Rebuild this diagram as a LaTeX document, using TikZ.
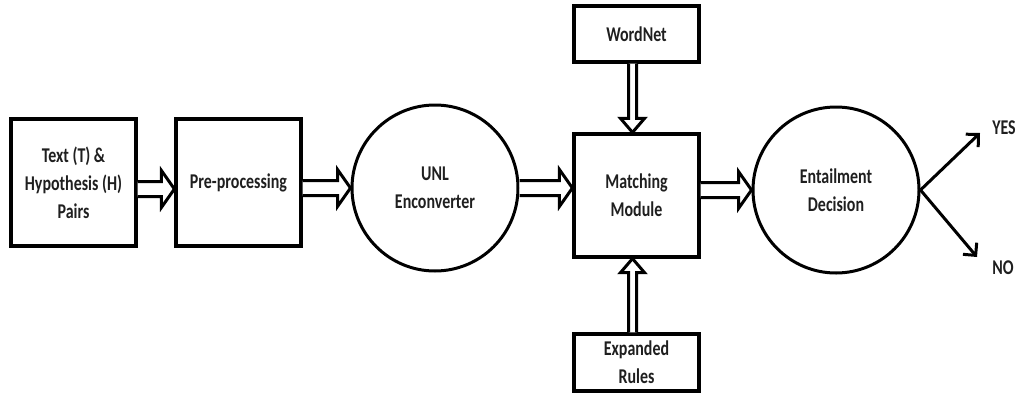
\documentclass[tikz,border=0pt]{standalone}
\usepackage{fontspec}
\setmainfont{Carlito}[FakeStretch=0.76]
\usetikzlibrary{calc,arrows.meta}
% start, end, shaft half-width, head half-width, head length
\newcommand\hollowarrow[5]{%
  \draw[harrow] let \p1=(#1), \p2=(#2), \p3=($(\p2)!#5!(\p1)$) in
   ($(\p1)!#3!90:(\p2)$) -- ($(\p3)!#3!90:(\p2)$) -- ($(\p3)!#4!90:(\p2)$) -- (\p2)
   -- ($(\p3)!#4!-90:(\p2)$) -- ($(\p3)!#3!-90:(\p2)$) -- ($(\p1)!#3!-90:(\p2)$);}
\tikzset{
  lbl/.style={font=\fontsize{21}{28}\selectfont\bfseries, align=center, text=black!88},
  box/.style={lbl, draw, line width=3.2pt, inner sep=0pt},
  ball/.style={lbl, draw, circle, line width=3pt, inner sep=0pt, minimum size=166pt},
  harrow/.style={draw, line width=3pt, fill=white},
  outarrow/.style={line width=3pt, -{Straight Barb[length=9pt,width=18pt]}}
}
\begin{document}
\begin{tikzpicture}[x=1pt,y=-1pt]
\useasboundingbox (0,0) rectangle (1018,397);
\node[box, minimum width=125pt, minimum height=127pt] (tp) at (73.5,182.5) {Text (T) \&\\Hypothesis (H)\\Pairs};
\node[box, minimum width=125pt, minimum height=127pt] (pre) at (238.5,182.5) {Pre-processing};
\node[ball] (unl) at (435,188) {UNL\\Enconverter};
\node[box, minimum width=125pt, minimum height=123pt] (mm) at (636.5,195.5) {Matching\\Module};
\node[box, minimum width=125pt, minimum height=56pt] (wn) at (636.5,34) {WordNet};
\node[box, minimum width=125pt, minimum height=57pt] (er) at (636.5,362.5) {Expanded\\Rules};
\node[ball] (ent) at (836,190) {Entailment\\Decision};
\node[lbl] (yes) at (1004,128) {YES};
\node[lbl] (no) at (1003,268) {NO};
\coordinate (yesend) at (980,133);
\coordinate (noend) at (977,257);

\hollowarrow{[yshift=-6.5pt]tp.east}{[yshift=-6.5pt]pre.west}{7.5pt}{18.5pt}{13pt}
\hollowarrow{unl.west -| pre.east}{unl.west}{7.5pt}{18.5pt}{13pt}
\hollowarrow{unl.east}{unl.east -| mm.west}{7.5pt}{18.5pt}{13pt}
\hollowarrow{ent.west -| mm.east}{ent.west}{7.5pt}{18.5pt}{13pt}
\hollowarrow{[xshift=-4pt]wn.south}{[xshift=-4pt]mm.north}{4pt}{12pt}{14pt}
\hollowarrow{[xshift=-4pt]er.north}{[xshift=-4pt]mm.south}{4pt}{12pt}{14pt}

\draw[outarrow] (ent.east) -- (yesend);
\draw[outarrow] (ent.east) -- (noend);
\end{tikzpicture}
\end{document}
